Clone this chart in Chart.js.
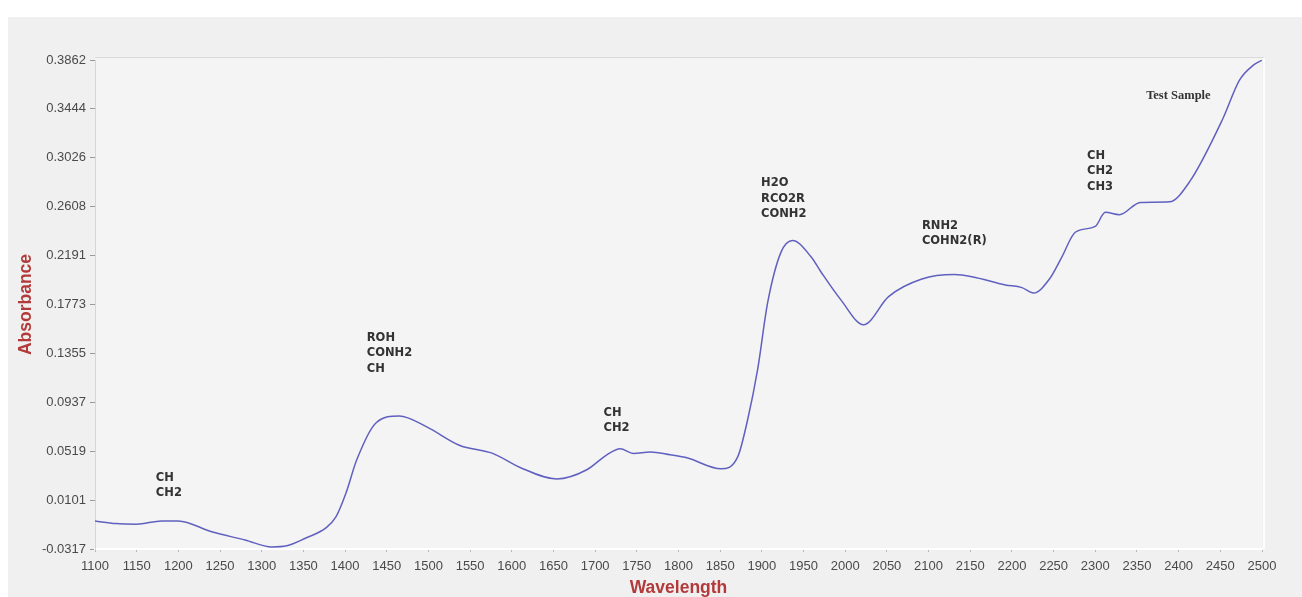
<!DOCTYPE html>
<html>
<head>
<meta charset="utf-8">
<title>Absorbance spectrum</title>
<script src="https://cdn.jsdelivr.net/npm/chart.js@4.4.1/dist/chart.umd.min.js"></script>
<style>
  html, body { margin: 0; padding: 0; background: #ffffff; }
  #wrap { width: 1302px; height: 597px; }
</style>
</head>
<body>
<div id="wrap"><canvas id="spectrum" width="1302" height="597"></canvas></div>
<script>
// Spectrum samples: wavelength (nm) and absorbance
const wavelengths = [1100, 1125, 1150, 1180, 1200, 1240, 1280, 1312, 1330, 1353, 1377, 1389,
  1401, 1414, 1437, 1465, 1498, 1537, 1577, 1610, 1654, 1690, 1714, 1730, 1746, 1766, 1790,
  1811, 1851, 1871, 1883, 1895, 1907, 1923, 1937, 1959, 1971, 1995, 2022, 2052, 2092, 2131,
  2152, 2192, 2212, 2226, 2245, 2260, 2276, 2300, 2312, 2329, 2354, 2389, 2413, 2453, 2473,
  2490, 2500];
const absorbance = [-0.0077, -0.0100, -0.0105, -0.0077, -0.0077, -0.0170, -0.0240, -0.0300,
  -0.0290, -0.0223, -0.0137, -0.0043, 0.0160, 0.0445, 0.0760, 0.0820, 0.0727, 0.0570, 0.0500,
  0.0380, 0.0282, 0.0360, 0.0488, 0.0540, 0.0500, 0.0513, 0.0488, 0.0460, 0.0368, 0.0470,
  0.0790, 0.1220, 0.1790, 0.2220, 0.2320, 0.2180, 0.2050, 0.1810, 0.1600, 0.1840, 0.1990,
  0.2028, 0.2010, 0.1940, 0.1917, 0.1870, 0.1990, 0.2180, 0.2390, 0.2440, 0.2560, 0.2540,
  0.2645, 0.2650, 0.2820, 0.3360, 0.3690, 0.3820, 0.3860];

// Axis tick values
const yTicks = [-0.0317, 0.0101, 0.0519, 0.0937, 0.1355, 0.1773, 0.2191, 0.2608, 0.3026, 0.3444, 0.3862];
const xTicks = [1100, 1150, 1200, 1250, 1300, 1350, 1400, 1450, 1500, 1550, 1600, 1650, 1700,
  1750, 1800, 1850, 1900, 1950, 2000, 2050, 2100, 2150, 2200, 2250, 2300, 2350, 2400, 2450, 2500];

// Band assignments, anchored at (wavelength, absorbance) of their first line
const bandLabels = [
  { lines: ['CH', 'CH2'], at: [1173, 0.0290] },
  { lines: ['ROH', 'CONH2', 'CH'], at: [1426, 0.1487] },
  { lines: ['CH', 'CH2'], at: [1710, 0.0846] },
  { lines: ['H2O', 'RCO2R', 'CONH2'], at: [1899, 0.2810] },
  { lines: ['RNH2', 'COHN2(R)'], at: [2092, 0.2445] },
  { lines: ['CH', 'CH2', 'CH3'], at: [2290, 0.3043] }
];
const seriesName = 'Test Sample';
const seriesNameAt = [2361, 0.3560];

const points = wavelengths.map((w, i) => ({ x: w, y: absorbance[i] }));

const backdrop = {
  id: 'backdrop',
  beforeDraw(chart) {
    const { ctx, chartArea: a } = chart;
    ctx.save();
    ctx.fillStyle = '#ffffff';
    ctx.fillRect(0, 0, chart.width, chart.height);
    ctx.fillStyle = '#f0f0f0';
    ctx.fillRect(8, 17, chart.width - 8, chart.height - 17);
    ctx.fillStyle = '#f4f4f4';
    ctx.fillRect(a.left, a.top - 3, a.right - a.left, a.bottom - a.top + 3);
    ctx.lineWidth = 1;
    ctx.strokeStyle = '#dadada';
    ctx.beginPath();
    ctx.moveTo(a.left, a.top - 2.5);
    ctx.lineTo(a.right + 2, a.top - 2.5);
    ctx.stroke();
    ctx.strokeStyle = '#fdfdfd';
    ctx.lineWidth = 2;
    ctx.beginPath();
    ctx.moveTo(a.right + 2, a.top - 2);
    ctx.lineTo(a.right + 2, a.bottom);
    ctx.stroke();
    ctx.restore();
  }
};

const bandText = {
  id: 'bandText',
  afterDatasetsDraw(chart) {
    const { ctx, scales: { x, y } } = chart;
    ctx.save();
    ctx.fillStyle = '#333333';
    ctx.textBaseline = 'middle';
    ctx.textAlign = 'left';
    ctx.font = 'bold 11.5px "DejaVu Sans"';
    bandLabels.forEach(b => {
      const px = x.getPixelForValue(b.at[0]);
      const py = y.getPixelForValue(b.at[1]);
      b.lines.forEach((t, i) => ctx.fillText(t, px, py + i * 15.5));
    });
    ctx.font = 'bold 12.5px "Liberation Serif"';
    ctx.fillText(seriesName, x.getPixelForValue(seriesNameAt[0]), y.getPixelForValue(seriesNameAt[1]));
    ctx.restore();
  }
};

new Chart(document.getElementById('spectrum'), {
  type: 'line',
  data: {
    datasets: [{
      label: seriesName,
      data: points,
      borderColor: '#6060c0',
      borderWidth: 1.5,
      pointRadius: 0,
      fill: false,
      cubicInterpolationMode: 'monotone'
    }]
  },
  options: {
    responsive: false,
    animation: false,
    devicePixelRatio: 1,
    layout: { padding: { left: 8, top: 60, right: 40, bottom: 0 } },
    plugins: { legend: { display: false }, tooltip: { enabled: false } },
    scales: {
      x: {
        type: 'linear',
        min: 1100,
        max: 2500,
        afterBuildTicks: s => { s.ticks = xTicks.map(v => ({ value: v })); },
        afterFit: s => { s.height = 48; },
        grid: { drawOnChartArea: false, drawTicks: true, tickLength: 3, color: '#b8b8b8' },
        border: { display: true, color: '#ffffff', width: 2 },
        ticks: {
          autoSkip: false, maxRotation: 0, padding: 7, color: '#4a4a4a',
          font: { family: 'Liberation Sans', size: 13 },
          callback: v => String(v)
        },
        title: {
          display: true, text: 'Wavelength', color: '#b23a3a',
          font: { family: 'Liberation Sans', size: 17.5, weight: 'bold', lineHeight: 1.0 },
          padding: { top: 0, bottom: 0 }
        }
      },
      y: {
        type: 'linear',
        min: -0.0317,
        max: 0.3862,
        afterBuildTicks: s => { s.ticks = yTicks.map(v => ({ value: v })); },
        afterFit: s => { s.width = 87; },
        grid: { drawOnChartArea: false, drawTicks: true, tickLength: 5, color: '#9a9a9a' },
        border: { display: true, color: '#d6d6d6', width: 1 },
        ticks: {
          padding: 4, color: '#4a4a4a',
          font: { family: 'Liberation Sans', size: 13 },
          callback: v => v.toFixed(4)
        },
        title: {
          display: true, text: 'Absorbance', color: '#b23a3a',
          font: { family: 'Liberation Sans', size: 17.5, weight: 'bold' },
          padding: { top: 8, bottom: 0 }
        }
      }
    }
  },
  plugins: [backdrop, bandText]
});
</script>
</body>
</html>
